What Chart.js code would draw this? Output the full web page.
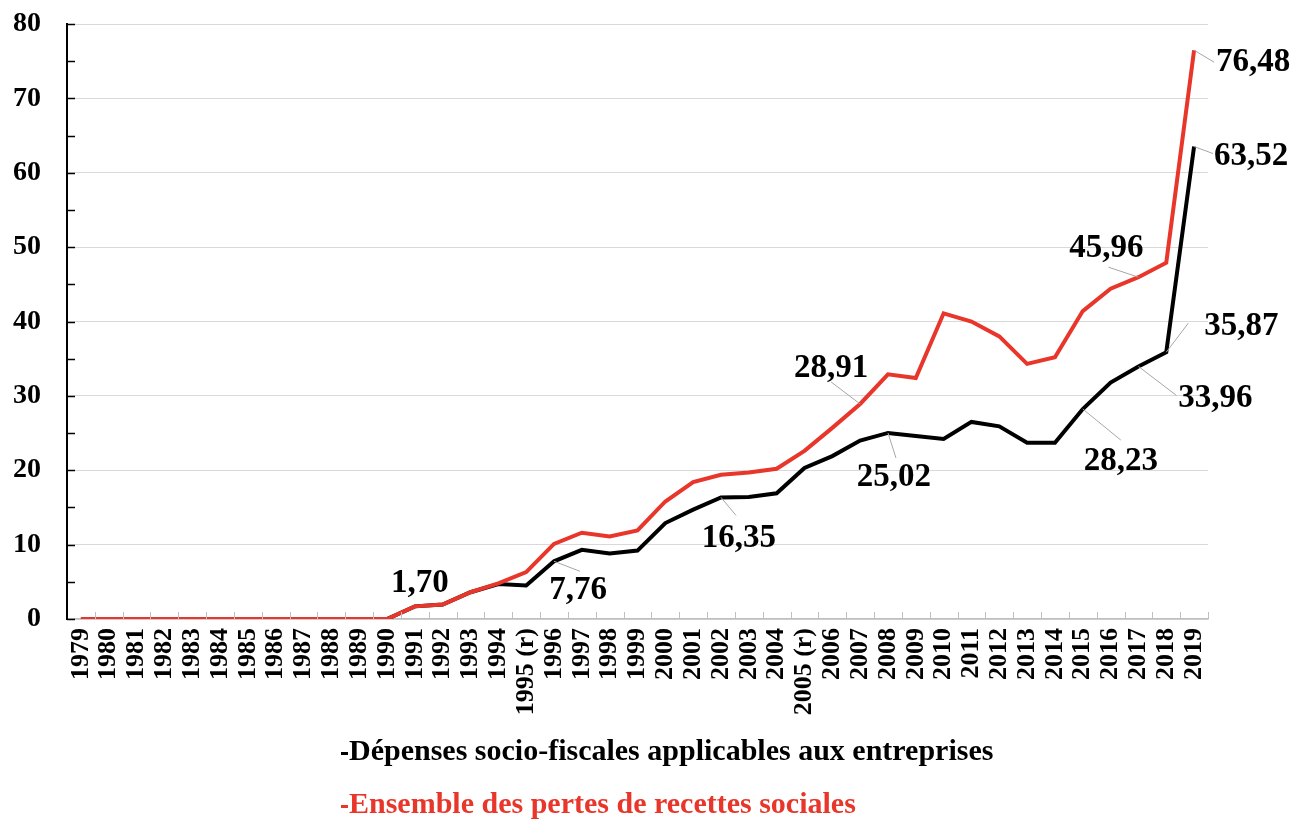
<!DOCTYPE html>
<html>
<head>
<meta charset="utf-8">
<script src="https://cdn.jsdelivr.net/npm/chart.js@4/dist/chart.umd.min.js"></script>
<style>
  body { margin: 0; background: #fff; }
  #wrap { position: relative; width: 1296px; height: 823px; }
  #legend { position: absolute; left: 341px; top: 730px; font-family: "Liberation Serif", "Times New Roman", serif; font-weight: bold; font-size: 30px; }
  #legend div { height: 53px; line-height: 40px; white-space: nowrap; }
  #legend span.mark { display: inline-block; width: 7px; height: 3px; vertical-align: middle; margin-right: 1px; }
</style>
</head>
<body>
<div id="wrap">
  <canvas id="myChart" width="1296" height="823"></canvas>
  <div id="legend">
    <div style="color:#000"><span class="mark" style="background:#000"></span>Dépenses socio-fiscales applicables aux entreprises</div>
    <div style="color:#e8362a"><span class="mark" style="background:#e8362a"></span>Ensemble des pertes de recettes sociales</div>
  </div>
</div>
<script>
'use strict';

let years = ['1979', '1980', '1981', '1982', '1983', '1984', '1985', '1986', '1987', '1988', '1989', '1990',
    '1991', '1992', '1993', '1994', '1995 (r)', '1996', '1997', '1998', '1999', '2000', '2001', '2002', '2003',
    '2004', '2005 (r)', '2006', '2007', '2008', '2009', '2010', '2011', '2012', '2013', '2014', '2015', '2016',
    '2017', '2018', '2019'];

let depensesEntreprises = [0, 0, 0, 0, 0, 0, 0, 0, 0, 0, 0, 0,
    1.70, 1.95, 3.6, 4.7, 4.5, 7.76, 9.3, 8.8, 9.2, 12.9, 14.7, 16.35, 16.4,
    16.9, 20.3, 21.9, 24.0, 25.02, 24.6, 24.2, 26.5, 25.9, 23.7, 23.7, 28.23, 31.8,
    33.96, 35.87, 63.52];

let pertesRecettes = [0, 0, 0, 0, 0, 0, 0, 0, 0, 0, 0, 0,
    1.70, 1.95, 3.6, 4.8, 6.3, 10.1, 11.6, 11.1, 11.9, 15.8, 18.4, 19.4, 19.7,
    20.2, 22.6, 25.7, 28.91, 32.9, 32.4, 41.1, 40.0, 38.0, 34.3, 35.2, 41.4, 44.4,
    45.96, 47.9, 76.48];

let yTicks = [0, 10, 20, 30, 40, 50, 60, 70, 80];

// which points carry a value label: [dataset, index, text]
let valueLabels = [
    [0, 12, '1,70'],
    [0, 17, '7,76'],
    [0, 23, '16,35'],
    [0, 29, '25,02'],
    [1, 28, '28,91'],
    [0, 36, '28,23'],
    [0, 38, '33,96'],
    [0, 39, '35,87'],
    [1, 38, '45,96'],
    [1, 40, '76,48'],
    [0, 40, '63,52']
];

// text offset and leader end, relative to the point (pixels)
let labelPlace = {
    '1,70': { tx: 5, ty: -23, lead: null },
    '7,76': { tx: 24, ty: 29, lead: [26, 10] },
    '16,35': { tx: 18, ty: 41, lead: [15, 18] },
    '25,02': { tx: 6, ty: 45, lead: [8, 25] },
    '28,91': { tx: -29, ty: -36, lead: [-29, -22] },
    '28,23': { tx: 38, ty: 52, lead: [38, 31] },
    '33,96': { tx: 77, ty: 32, lead: [38, 29] },
    '35,87': { tx: 75, ty: -26, lead: [22, -29] },
    '45,96': { tx: -32, ty: -29, lead: [-30, -10] },
    '76,48': { tx: 59, ty: 12, lead: [20, 12] },
    '63,52': { tx: 57, ty: 10, lead: [19, 7] }
};

let serif = '"Liberation Serif", "Times New Roman", serif';

let extraTicks = {
    id: 'extraTicks',
    afterDatasetsDraw(chart) {
        let ctx = chart.ctx;
        let x = chart.scales.x;
        let y = chart.scales.y;
        ctx.save();
        // small marks on the y axis, every 5
        ctx.strokeStyle = '#000';
        ctx.lineWidth = 1.5;
        for (let v = 0; v <= 80; v += 5) {
            let py = Math.round(y.getPixelForValue(v)) + 0.5;
            ctx.beginPath();
            ctx.moveTo(x.left, py);
            ctx.lineTo(x.left + 8, py);
            ctx.stroke();
        }
        // grey marks between categories on the x axis
        ctx.strokeStyle = '#bfbfbf';
        ctx.lineWidth = 1;
        let step = x.width / years.length;
        for (let i = 1; i <= years.length; i++) {
            let px = Math.round(x.left + step * i) + 0.5;
            ctx.beginPath();
            ctx.moveTo(px, y.bottom);
            ctx.lineTo(px, y.bottom - 7);
            ctx.stroke();
        }
        ctx.restore();
    }
};

let valueLabelPlugin = {
    id: 'valueLabels',
    afterDraw(chart) {
        let ctx = chart.ctx;
        ctx.save();
        ctx.font = 'bold 33px ' + serif;
        ctx.textAlign = 'center';
        ctx.textBaseline = 'middle';
        for (let i = 0; i < valueLabels.length; i++) {
            let ds = valueLabels[i][0];
            let idx = valueLabels[i][1];
            let text = valueLabels[i][2];
            let pt = chart.getDatasetMeta(ds).data[idx];
            let place = labelPlace[text];
            if (place.lead) {
                ctx.strokeStyle = '#a6a6a6';
                ctx.lineWidth = 1;
                ctx.beginPath();
                ctx.moveTo(pt.x, pt.y);
                ctx.lineTo(pt.x + place.lead[0], pt.y + place.lead[1]);
                ctx.stroke();
            }
            ctx.fillStyle = '#000';
            ctx.fillText(text, pt.x + place.tx, pt.y + place.ty);
        }
        ctx.restore();
    }
};

function chartRender() {
    let ctx = document.getElementById('myChart').getContext('2d');
    new Chart(ctx, {
        type: 'line',
        data: {
            labels: years,
            datasets: [{
                label: 'Dépenses socio-fiscales applicables aux entreprises',
                data: depensesEntreprises,
                borderColor: '#000',
                borderWidth: 4,
                pointRadius: 0,
                tension: 0,
                order: 1
            }, {
                label: 'Ensemble des pertes de recettes sociales',
                data: pertesRecettes,
                borderColor: '#e8362a',
                borderWidth: 4,
                pointRadius: 0,
                tension: 0,
                order: 0
            }]
        },
        options: {
            responsive: false,
            animation: false,
            layout: { padding: { left: 0, right: 88, top: 24, bottom: 0 } },
            plugins: {
                legend: { display: false },
                tooltip: { enabled: false }
            },
            scales: {
                x: {
                    offset: true,
                    grid: { display: false, drawTicks: false },
                    border: { display: true, color: '#bfbfbf', width: 1.5 },
                    ticks: {
                        autoSkip: false,
                        maxRotation: 90,
                        minRotation: 90,
                        padding: 9,
                        color: '#000',
                        font: { family: serif, size: 26, weight: 'bold' }
                    },
                    afterFit: function (scale) { scale.height = 204; }
                },
                y: {
                    min: 0,
                    max: 80,
                    afterBuildTicks: function (scale) {
                        scale.ticks = yTicks.map(v => ({ value: v }));
                    },
                    grid: { color: '#d9d9d9', lineWidth: 1, drawTicks: true, tickLength: 26, tickColor: 'rgba(0,0,0,0)' },
                    border: { display: true, color: '#000', width: 2 },
                    ticks: {
                        padding: 0,
                        color: '#000',
                        font: { family: serif, size: 28, weight: 'bold' }
                    },
                    afterFit: function (scale) { scale.width = 67; }
                }
            }
        },
        plugins: [extraTicks, valueLabelPlugin]
    });
}
chartRender();
</script>
</body>
</html>
